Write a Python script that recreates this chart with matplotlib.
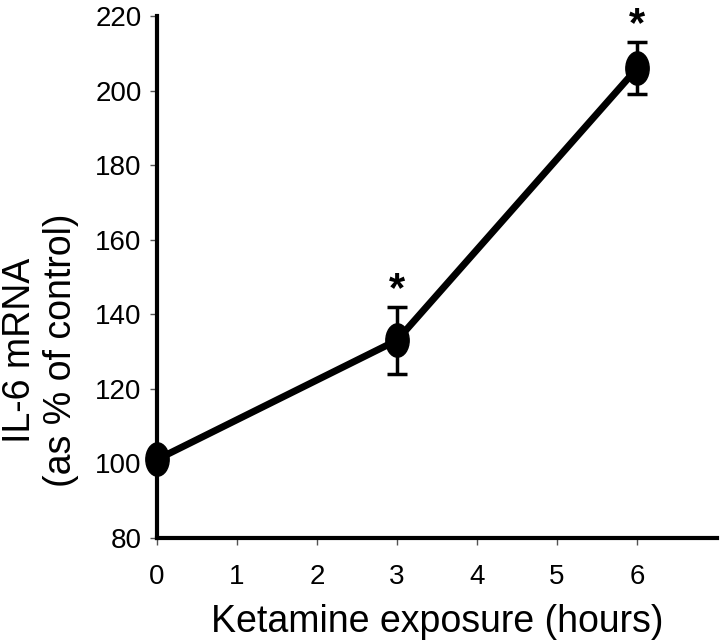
import matplotlib
matplotlib.use('Agg')
import matplotlib.pyplot as plt
from matplotlib.path import Path
from matplotlib.transforms import Affine2D

plt.rcParams['font.family'] = ['Liberation Sans', 'DejaVu Sans']

hours = [0, 3, 6]
il6 = [101, 133, 206]
err = [1, 9, 7]
stars = [False, True, True]

# tall ellipse marker like the original
ellipse = Affine2D().scale(0.7, 1.0).transform_path(Path.unit_circle())

fig = plt.figure(figsize=(7.2, 6.44), dpi=100)
ax = fig.add_axes([0.218, 0.165, 0.778, 0.81])

ax.errorbar(hours, il6, yerr=err, color='black', lw=5, marker=ellipse,
            markersize=24, elinewidth=2.5, capsize=7, capthick=2.5,
            clip_on=False, zorder=3)

for x, y, e, s in zip(hours, il6, err, stars):
    if s:
        ax.annotate('*', (x, y + e), xytext=(0, 12), textcoords='offset points',
                    ha='center', va='center', fontsize=30, fontweight='bold',
                    annotation_clip=False)

ax.set_xlim(0, 7)
ax.set_ylim(80, 220)
ax.set_xticks(range(0, 7))
ax.set_yticks(range(80, 221, 20))
ax.spines['top'].set_visible(False)
ax.spines['right'].set_visible(False)
ax.spines['left'].set_linewidth(3)
ax.spines['bottom'].set_linewidth(3)
ax.tick_params(labelsize=20, width=1, length=5, color='#555555')
ax.tick_params(axis='x', pad=14)
ax.tick_params(axis='y', pad=6)

ax.set_xlabel('Ketamine exposure (hours)', fontsize=27, labelpad=10)
ax.set_ylabel('IL-6 mRNA\n(as % of control)', fontsize=27, linespacing=1.15)
# label sits lower than the axis centre in the original
ax.yaxis.set_label_coords(-0.14, 0.36)

plt.savefig('out.png', dpi=100)
plt.close()
